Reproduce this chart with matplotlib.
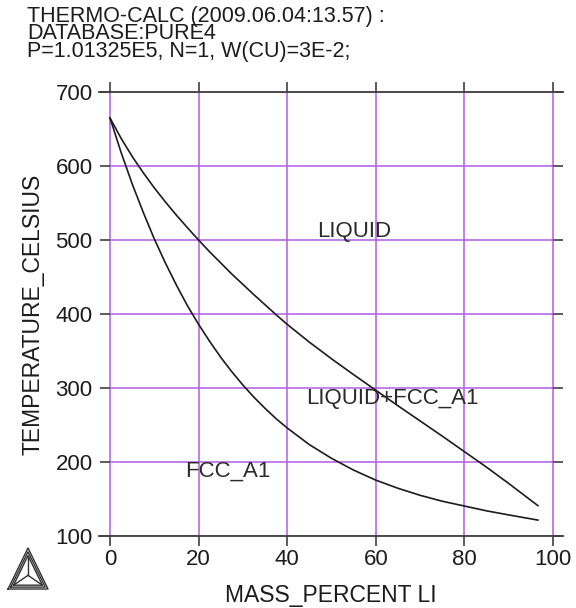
import matplotlib
matplotlib.use("Agg")
import matplotlib.pyplot as plt
from matplotlib.lines import Line2D
import numpy as np

# Phase boundaries (mass % Li vs. temperature in Celsius)
liquidus_x = [0, 2.5, 5, 7.5, 10, 12.5, 15, 17.5, 20, 22.5, 25, 27.5, 30,
              32.5, 35, 37.5, 40, 45, 50, 55, 60, 65, 70, 75, 80, 85, 90, 96.6]
liquidus_t = [665, 637.5, 613, 591, 570.5, 551.5, 533.5, 516.5, 500, 484,
              469, 454, 440, 426, 412.5, 399, 386, 362, 339.5, 318, 297, 276,
              255.5, 235, 214, 193, 171, 141]

solidus_x = [0, 2.5, 5, 7.5, 10, 12.5, 15, 17.5, 20, 22.5, 25, 27.5, 30,
             32.5, 35, 37.5, 40, 45, 50, 55, 60, 65, 70, 75, 80, 85, 90, 96.6]
solidus_t = [665, 618.5, 576, 537.5, 501.5, 469, 439, 411, 386, 363, 341.5,
             322, 304, 287.5, 272.5, 258.5, 246, 223.5, 205, 189, 175.5, 164.5,
             155, 147, 140.5, 134, 128.5, 121.5]

x_ticks = [0, 20, 40, 60, 80, 100]
y_ticks = [100, 200, 300, 400, 500, 600, 700]

region_names = ["LIQUID", "LIQUID+FCC_A1", "FCC_A1"]
region_x = [55.1, 63.7, 26.6]
region_t = [511, 286, 188]

header_lines = ["THERMO-CALC (2009.06.04:13.57) :",
                "DATABASE:PURE4",
                "P=1.01325E5, N=1, W(CU)=3E-2;"]

FONT = "Liberation Sans"
INK = "#1c1c1c"
GRID = "#b25de3"

W, H = 576, 608
fig = plt.figure(figsize=(W / 100, H / 100), dpi=100)
plt.rcParams["font.family"] = [FONT, "DejaVu Sans"]


def fx(px):
    return px / W


def fy(py):
    return (H - py) / H


ax = fig.add_axes([fx(99), fy(536), (563 - 99) / W, (536 - 92) / H])
ax.set_xlim(-2.48, 102.26)
ax.set_ylim(100, 700)

# purple grid restricted to the data range
ax.hlines(y_ticks, x_ticks[0], x_ticks[-1], color=GRID, lw=1.1, zorder=1)
ax.vlines(x_ticks, y_ticks[0], y_ticks[-1], color=GRID, lw=1.1, zorder=1)

ax.plot(liquidus_x, liquidus_t, color=INK, lw=1.2, zorder=3)
ax.plot(solidus_x, solidus_t, color=INK, lw=1.2, zorder=3)

for name, xv, tv in zip(region_names, region_x, region_t):
    ax.text(xv, tv, name, ha="center", va="center", fontsize=16,
            color="#2a2a2a", zorder=4)

# frame: only top and bottom lines drawn; side ticks sit on x=0 and x=100
for side in ("top", "bottom"):
    ax.spines[side].set_color("#404040")
    ax.spines[side].set_linewidth(1.3)
ax.spines["left"].set_position(("data", 0))
ax.spines["right"].set_position(("data", 100))
ax.spines["left"].set_visible(False)
ax.spines["right"].set_visible(False)

ax.set_xticks(x_ticks)
ax.set_yticks(y_ticks)
ax.set_xticklabels([str(v) for v in x_ticks])
ax.set_yticklabels([str(v) for v in y_ticks])
ax.tick_params(axis="both", which="major", direction="out", length=7.5,
               width=1.2, color="#404040", labelsize=16, labelcolor=INK,
               top=True, right=True, labeltop=False, labelright=False)
ax.tick_params(axis="x", pad=2)
ax.tick_params(axis="y", pad=5)

ax.set_xlabel("MASS_PERCENT LI", fontsize=16.5, color=INK, labelpad=10)
ax.set_ylabel("TEMPERATURE_CELSIUS", fontsize=16.5, color=INK, labelpad=8)

# header block, tightly spaced lines
fig.text(fx(27), fy(6), "\n".join(header_lines), fontsize=15.5, color=INK,
         ha="left", va="top", linespacing=0.78)

# logo: nested triangles with a centre star
outer = np.array([[8.0, 589.0], [48.0, 589.0], [28.0, 548.0]])
centroid = outer.mean(axis=0)
for s in (1.0, 0.86, 0.72):
    tri = centroid + (outer - centroid) * s
    tri = np.vstack([tri, tri[:1]])
    fig.add_artist(Line2D(fx(tri[:, 0]), fy(tri[:, 1]),
                          transform=fig.transFigure, color="#333333", lw=1.0))
inner = centroid + (outer - centroid) * 0.72
for v in inner:
    fig.add_artist(Line2D([fx(centroid[0]), fx(v[0])],
                          [fy(centroid[1]), fy(v[1])],
                          transform=fig.transFigure, color="#333333", lw=1.0))

fig.savefig("out.png", dpi=100)
